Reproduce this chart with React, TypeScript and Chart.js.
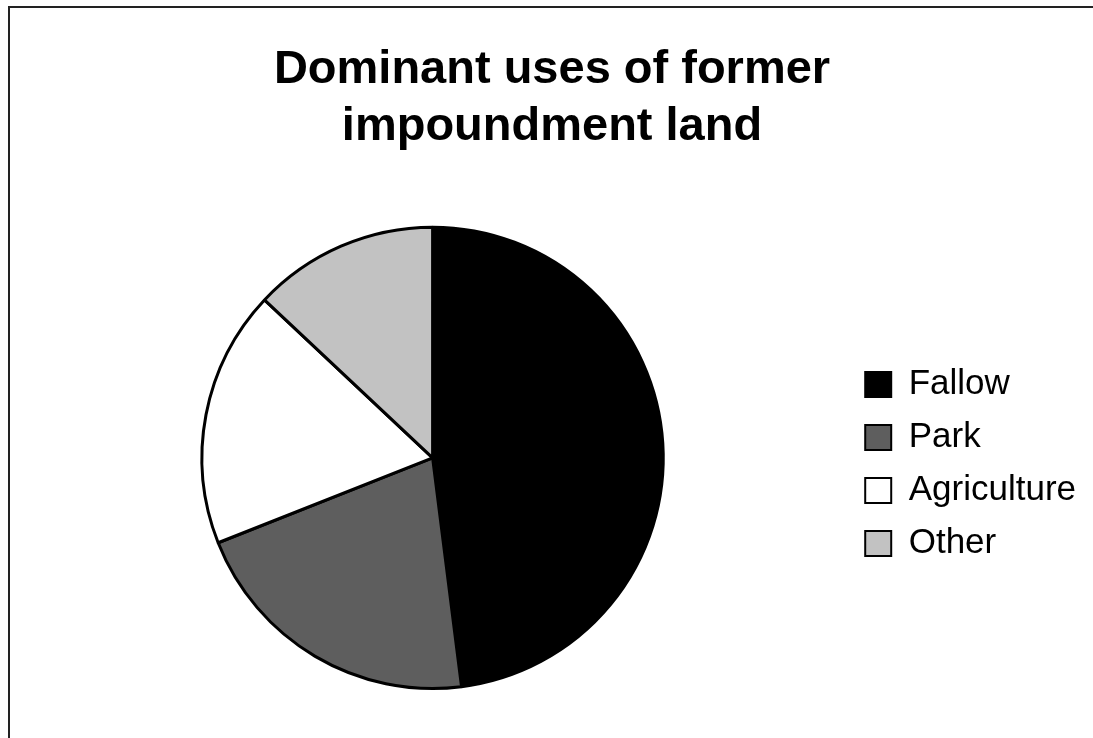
import React, { useEffect, useRef } from "react";
import { Chart, registerables } from "chart.js";

Chart.register(...registerables);

const titleLines = ["Dominant uses of former", "impoundment land"];
const categories = ["Fallow", "Park", "Agriculture", "Other"];
const shares = [48, 21, 18, 13];
const sliceColors = ["#000000", "#5e5e5e", "#ffffff", "#c2c2c2"];

export default function App() {
  const canvasRef = useRef<HTMLCanvasElement | null>(null);

  useEffect(() => {
    document.body.style.margin = "0";
    const ctx = canvasRef.current!.getContext("2d")!;
    const chart = new Chart(ctx, {
      type: "pie",
      data: {
        labels: categories,
        datasets: [
          {
            data: shares,
            backgroundColor: sliceColors,
            borderColor: "#000000",
            borderWidth: 3,
          },
        ],
      },
      options: {
        responsive: false,
        animation: false,
        layout: { padding: { left: 18, right: 7, top: 0, bottom: 48 } },
        plugins: {
          tooltip: { enabled: false },
          title: {
            display: true,
            text: titleLines,
            color: "#000000",
            font: { family: "'Liberation Sans', Arial, sans-serif", size: 47, weight: "bold", lineHeight: 1.22 },
            padding: { top: 41, bottom: 70 },
          },
          legend: {
            display: true,
            position: "right",
            align: "center",
            title: {
              display: true,
              text: " ",
              font: { size: 16, lineHeight: 1 },
              padding: { top: 0, bottom: 222 },
            },
            labels: {
              color: "#000000",
              font: { family: "'Liberation Sans', Arial, sans-serif", size: 35 },
              boxWidth: 26,
              boxHeight: 25,
              padding: 18,
              generateLabels: (c: any) =>
                categories.map((name, i) => ({
                  text: name,
                  fillStyle: sliceColors[i],
                  strokeStyle: "#000000",
                  lineWidth: 2,
                  hidden: false,
                  index: i,
                  fontColor: "#000000",
                })),
            },
          },
        },
      },
    });
    return () => chart.destroy();
  }, []);

  return (
    <div style={{ position: "absolute", left: 0, top: 0, width: 1093, height: 738, background: "#fff" }}>
      <canvas ref={canvasRef} width={1093} height={738} style={{ position: "absolute", left: 0, top: 0 }} />
      <div
        style={{
          position: "absolute",
          left: 8,
          top: 6,
          width: 1085,
          height: 732,
          borderLeft: "2px solid #222",
          borderTop: "2px solid #222",
          boxSizing: "border-box",
          pointerEvents: "none",
        }}
      />
    </div>
  );
}
